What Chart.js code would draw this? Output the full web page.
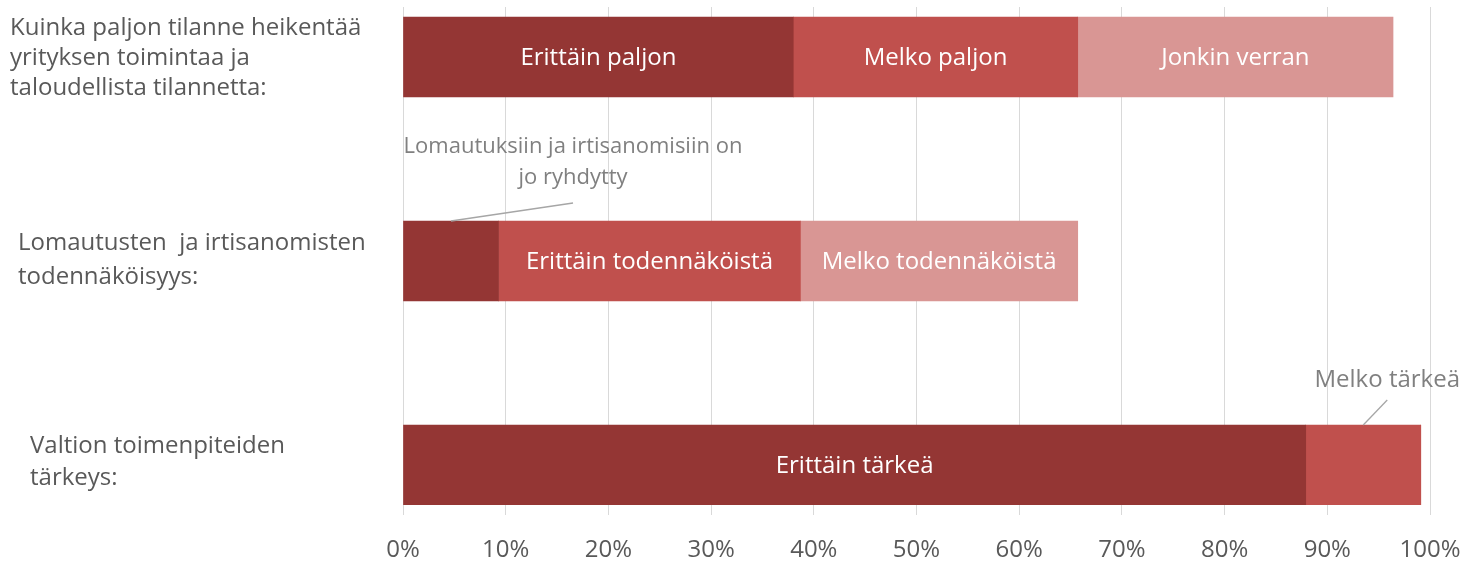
<!DOCTYPE html>
<html><head><meta charset="utf-8">
<script src="https://cdn.jsdelivr.net/npm/chart.js@4"></script>
<style>html,body{margin:0;padding:0;background:#fff}#wrap{width:1466px;height:563px;position:relative}</style>
</head><body><div id="wrap"><canvas id="c" width="1466" height="563"></canvas></div>
<script>
// ---- data ----
const categories = [
  ["Kuinka paljon tilanne heikentää", "yrityksen toimintaa ja", "taloudellista tilannetta:"],
  ["Lomautusten  ja irtisanomisten", "todennäköisyys:"],
  ["Valtion toimenpiteiden", "tärkeys:"]
];
const categoryPositions = [0, 1, 2];
const seg1Values = [38.0, 9.3, 87.9];
const seg2Values = [27.7, 29.4, 11.2];
const seg3Values = [30.7, 27.0, 0];
const seg1Labels = ["Erittäin paljon", "Lomautuksiin ja irtisanomisiin on\njo ryhdytty", "Erittäin tärkeä"];
const seg2Labels = ["Melko paljon", "Erittäin todennäköistä", "Melko tärkeä"];
const seg3Labels = ["Jonkin verran", "Melko todennäköistä", ""];
const xTickValues = [0, 10, 20, 30, 40, 50, 60, 70, 80, 90, 100];

// ---- styles ----
const FONT = "'Open Sans', Lato, sans-serif";
const colors = ["#943634", "#C0504D", "#D99694"];
const calloutStyle = [
  {ds: 0, idx: 1, lineDx: 122, lineDy: -18, textDx: 122, textDy: -74, lh: 31, size: 22},
  {ds: 1, idx: 2, lineDx: 24, lineDy: -25, textDx: 24, textDy: -45, lh: 31, size: 24}
];
const catStyle = [
  {dx: 10, dy: 1, lh: 30},
  {dx: 18, dy: -1, lh: 34},
  {dx: 30, dy: -3, lh: 32}
];

function mk(vals) { return vals.map((v, i) => ({x: v, y: categoryPositions[i]})); }

const labelSets = [seg1Labels, seg2Labels, seg3Labels];

const barLabelPlugin = {
  id: 'barLabels',
  afterDatasetsDraw(chart) {
    const ctx = chart.ctx;
    ctx.save();
    ctx.font = "24px " + FONT;
    ctx.fillStyle = "#ffffff";
    ctx.textAlign = "center";
    ctx.textBaseline = "middle";
    const callSet = new Set(calloutStyle.map(c => c.ds + ":" + c.idx));
    chart.data.datasets.forEach((ds, di) => {
      const meta = chart.getDatasetMeta(di);
      meta.data.forEach((el, i) => {
        const txt = labelSets[di][i];
        if (!txt || callSet.has(di + ":" + i)) return;
        ctx.fillText(txt, (el.x + el.base) / 2, el.y + 1);
      });
    });
    calloutStyle.forEach(c => {
      const el = chart.getDatasetMeta(c.ds).data[c.idx];
      const ax = (el.x + el.base) / 2;
      const ay = el.y - el.height / 2;
      ctx.strokeStyle = "#a6a6a6";
      ctx.lineWidth = 1.3;
      ctx.beginPath();
      ctx.moveTo(ax, ay);
      ctx.lineTo(ax + c.lineDx, ay + c.lineDy);
      ctx.stroke();
      ctx.fillStyle = "#808080";
      ctx.font = c.size + "px " + FONT;
      const lines = labelSets[c.ds][c.idx].split("\n");
      lines.forEach((ln, k) => {
        ctx.fillText(ln, ax + c.textDx, ay + c.textDy + k * c.lh);
      });
    });
    const yScale = chart.scales.y;
    ctx.fillStyle = "#595959";
    ctx.textAlign = "left";
    ctx.font = "24px " + FONT;
    categories.forEach((lines, i) => {
      const s = catStyle[i];
      const cy = yScale.getPixelForValue(categoryPositions[i]) + s.dy;
      const start = cy - (lines.length - 1) * s.lh / 2;
      lines.forEach((ln, k) => ctx.fillText(ln, s.dx, start + k * s.lh));
    });
    ctx.restore();
  }
};

new Chart(document.getElementById('c'), {
  type: 'bar',
  data: {
    datasets: [
      {label: 'seg1', data: mk(seg1Values), backgroundColor: colors[0]},
      {label: 'seg2', data: mk(seg2Values), backgroundColor: colors[1]},
      {label: 'seg3', data: mk(seg3Values), backgroundColor: colors[2]}
    ]
  },
  options: {
    indexAxis: 'y',
    responsive: false,
    animation: false,
    devicePixelRatio: 1,
    datasets: {bar: {barThickness: 80, borderWidth: 0}},
    layout: {padding: {left: 403, right: 36, top: 7, bottom: 1}},
    plugins: {legend: {display: false}, tooltip: {enabled: false}},
    scales: {
      x: {
        type: 'linear', stacked: true, min: 0, max: 100,
        afterBuildTicks: (s) => { s.ticks = xTickValues.map(v => ({value: v})); },
        afterFit: (s) => { s.height = 57; s.paddingLeft = 0; s.paddingRight = 0; },
        ticks: {callback: (v) => v + '%', color: '#595959', font: {family: FONT, size: 24}, padding: 21, maxRotation: 0},
        grid: {color: '#d9d9d9', lineWidth: 1, tickLength: 10, drawTicks: true},
        border: {display: false}
      },
      y: {
        type: 'linear', stacked: true, reverse: true, offset: false, min: -0.245, max: 2.196,
        display: false, grid: {display: false}
      }
    }
  },
  plugins: [barLabelPlugin]
});
</script>
</body></html>
